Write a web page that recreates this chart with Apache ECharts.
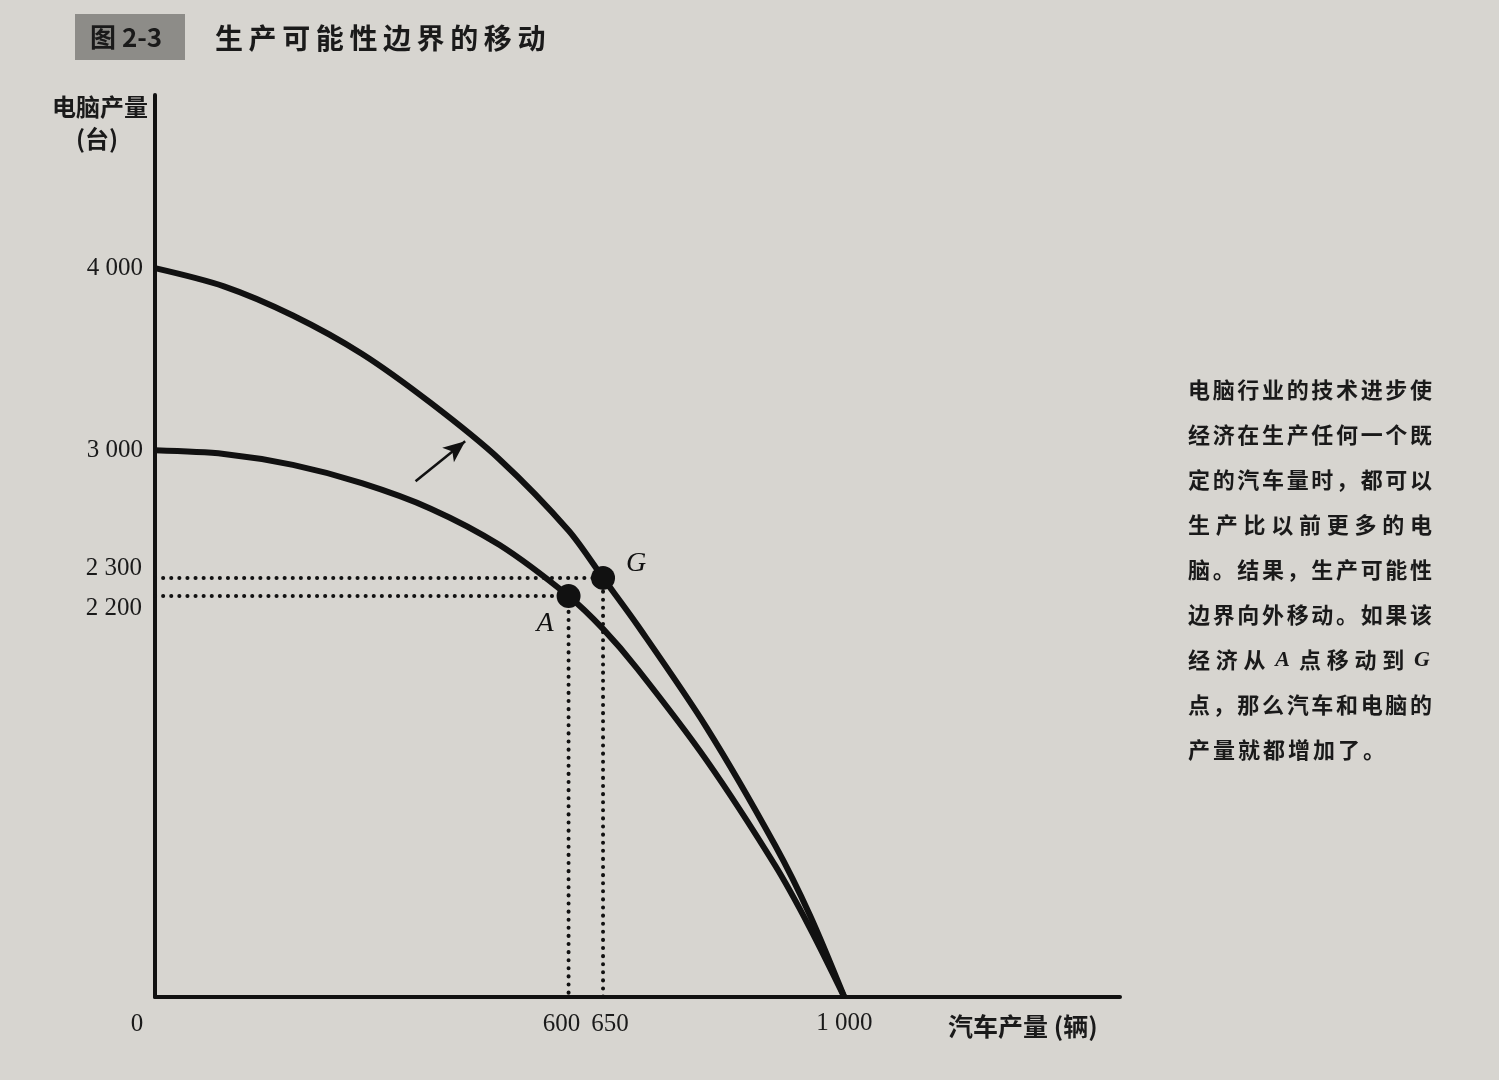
<!DOCTYPE html>
<html><head><meta charset="utf-8">
<script src="https://cdn.jsdelivr.net/npm/echarts@6/dist/echarts.min.js"></script>
<style>html,body{margin:0;padding:0;background:#d7d5d0}#c{width:1499px;height:1080px}</style>
</head><body><div id="c"></div>
<script>
// ---- data ----
const outerX = [0,100,200,300,400,500,600,650,700,800,900,950,1000];
const outerY = [4000,3900,3740,3530,3260,2950,2560,2300,2040,1480,830,450,0];
const innerX = [0,100,200,300,400,500,600,650,700,800,900,950,1000];
const innerY = [3000,2980,2920,2820,2680,2480,2200,2020,1800,1300,720,380,0];
const pointA = [600,2200];
const pointG = [650,2300];
const arrowFrom = [378,2830];
const arrowTo = [450,3050];
const xTicks = [1000];
const yTicks = [3000,4000];
const originTick = 0;
const xPairTicks = [600,650];
const yPairTicks = [2200,2300];
const xMax = 1400, yMax = 4950;
const titleTag = '图 2-3';
const titleText = '生产可能性边界的移动';
const yName1 = '电脑产量', yName2 = '(台)';
const xName = '汽车产量 (辆)';
const noteLines = [
  ['电脑行业的技术进步使', true],
  ['经济在生产任何一个既', true],
  ['定的汽车量时，都可以', true],
  ['生产比以前更多的电', true],
  ['脑。结果，生产可能性', true],
  ['边界向外移动。如果该', true],
  ['经济从A点移动到G', true],
  ['点，那么汽车和电脑的', true],
  ['产量就都增加了。', false]
];

function fmt(v){ return v >= 1000 ? String(v).replace(/(\d)(\d{3})$/, '$1 $2') : String(v); }
const zip = (xs, ys) => xs.map((x,i)=>[x, ys[i]]);

const serif = '"Liberation Serif","DejaVu Serif",serif';
const cjk = '"Noto Sans CJK SC","Noto Sans",sans-serif';
const ink = '#1a1a1a';

// graphic texts
const graphics = [];
graphics.push({type:'rect', shape:{x:75,y:14,width:110,height:46}, style:{fill:'#8d8c88'}});
graphics.push({type:'text', x:90, y:37, style:{text:titleTag, font:'bold 26px '+cjk, fill:ink, textVerticalAlign:'middle'}});
[...titleText].forEach((ch,i)=>graphics.push({type:'text', x:215+i*33.6, y:38,
  style:{text:ch, font:'bold 28px '+cjk, fill:ink, textVerticalAlign:'middle'}}));
graphics.push({type:'text', x:52, y:107, style:{text:yName1, font:'bold 24px '+cjk, fill:ink, textVerticalAlign:'middle'}});
graphics.push({type:'text', x:76, y:139, style:{text:yName2, font:'bold 24px '+cjk, fill:ink, textVerticalAlign:'middle'}});
graphics.push({type:'text', x:948, y:1026, style:{text:xName, font:'bold 25px '+cjk, fill:ink, textVerticalAlign:'middle'}});
noteLines.forEach(([line, just], r)=>{
  const chars = [...line];
  const fs = 22;
  const step = just ? (1432 - 1188 - fs) / (chars.length - 1) : fs + 3;
  chars.forEach((ch,i)=>{
    const latin = /[A-Z]/.test(ch);
    graphics.push({type:'text', x:1188 + i*step + (latin?4:0), y:390 + r*45,
      style:{text:ch, font:(latin?'bold italic 22px '+serif:'bold '+fs+'px '+cjk), fill:ink, textVerticalAlign:'middle'}});
  });
});

const tickLabelStyle = {show:true, fontFamily:serif, fontSize:25, color:ink, opacity:1};
const lbl = (extra) => Object.assign({}, tickLabelStyle, extra);
const pairLabels = [
  {value:[0,yPairTicks[1]], label:lbl({formatter:fmt(yPairTicks[1]), position:'left', distance:12, offset:[0,-9]})},
  {value:[0,yPairTicks[0]], label:lbl({formatter:fmt(yPairTicks[0]), position:'left', distance:12, offset:[0,12]})},
  {value:[xPairTicks[0],0], label:lbl({formatter:fmt(xPairTicks[0]), position:'bottom', distance:14, offset:[-7,0]})},
  {value:[xPairTicks[1],0], label:lbl({formatter:fmt(xPairTicks[1]), position:'bottom', distance:14, offset:[7,0]})},
  {value:[originTick,0], label:lbl({formatter:String(originTick), position:'bottom', distance:14, offset:[-18,0]})}
];
const pointLabel = (t, pos, off) => ({show:true, formatter:t, position:pos, offset:off, fontFamily:serif,
  fontStyle:'italic', fontSize:28, color:'#111', opacity:1});

const chart = echarts.init(document.getElementById('c'));
chart.setOption({
  backgroundColor:'#d7d5d0',
  animation:false,
  grid:{left:155, top:95, right:379, bottom:83},
  xAxis:{type:'value', min:0, max:xMax,
    axisLine:{show:true, onZero:false, lineStyle:{color:'#111', width:4}},
    axisTick:{show:false}, splitLine:{show:false},
    axisLabel:{customValues:xTicks, formatter:fmt, margin:14, fontFamily:serif, fontSize:25, color:ink}
  },
  yAxis:{type:'value', min:0, max:yMax,
    axisLine:{show:true, onZero:false, lineStyle:{color:'#111', width:4}},
    axisTick:{show:false}, splitLine:{show:false},
    axisLabel:{customValues:yTicks, formatter:fmt, margin:12, fontFamily:serif, fontSize:25, color:ink}
  },
  graphic: graphics,
  series:[
    {type:'line', data:[[0,pointG[1]],pointG,[pointG[0],0]], symbol:'none', silent:true,
      lineStyle:{color:'#111', width:4, type:[0.1,8], cap:'round'}, z:2},
    {type:'line', data:[[0,pointA[1]],pointA,[pointA[0],0]], symbol:'none', silent:true,
      lineStyle:{color:'#111', width:4, type:[0.1,8], cap:'round'}, z:2},
    {type:'line', data:zip(outerX, outerY), symbol:'none', smooth:0.3,
      lineStyle:{color:'#111', width:6}, z:3},
    {type:'line', data:zip(innerX, innerY), symbol:'none', smooth:0.3,
      lineStyle:{color:'#111', width:6}, z:3,
      markLine:{silent:true, symbol:['none','arrow'], symbolSize:[14,22], label:{show:false},
        lineStyle:{color:'#111', width:2.5, type:'solid'},
        data:[[{coord:arrowFrom},{coord:arrowTo}]]}},
    {type:'scatter', symbolSize:24, itemStyle:{color:'#111', opacity:1}, z:5,
      data:[
        {value:pointA, label:pointLabel('A','left',[2,28])},
        {value:pointG, label:pointLabel('G','right',[6,-14])}
      ]},
    {type:'scatter', symbolSize:2, itemStyle:{color:'rgba(0,0,0,0)', opacity:1}, silent:true, z:6, data:pairLabels}
  ]
});
</script></body></html>
